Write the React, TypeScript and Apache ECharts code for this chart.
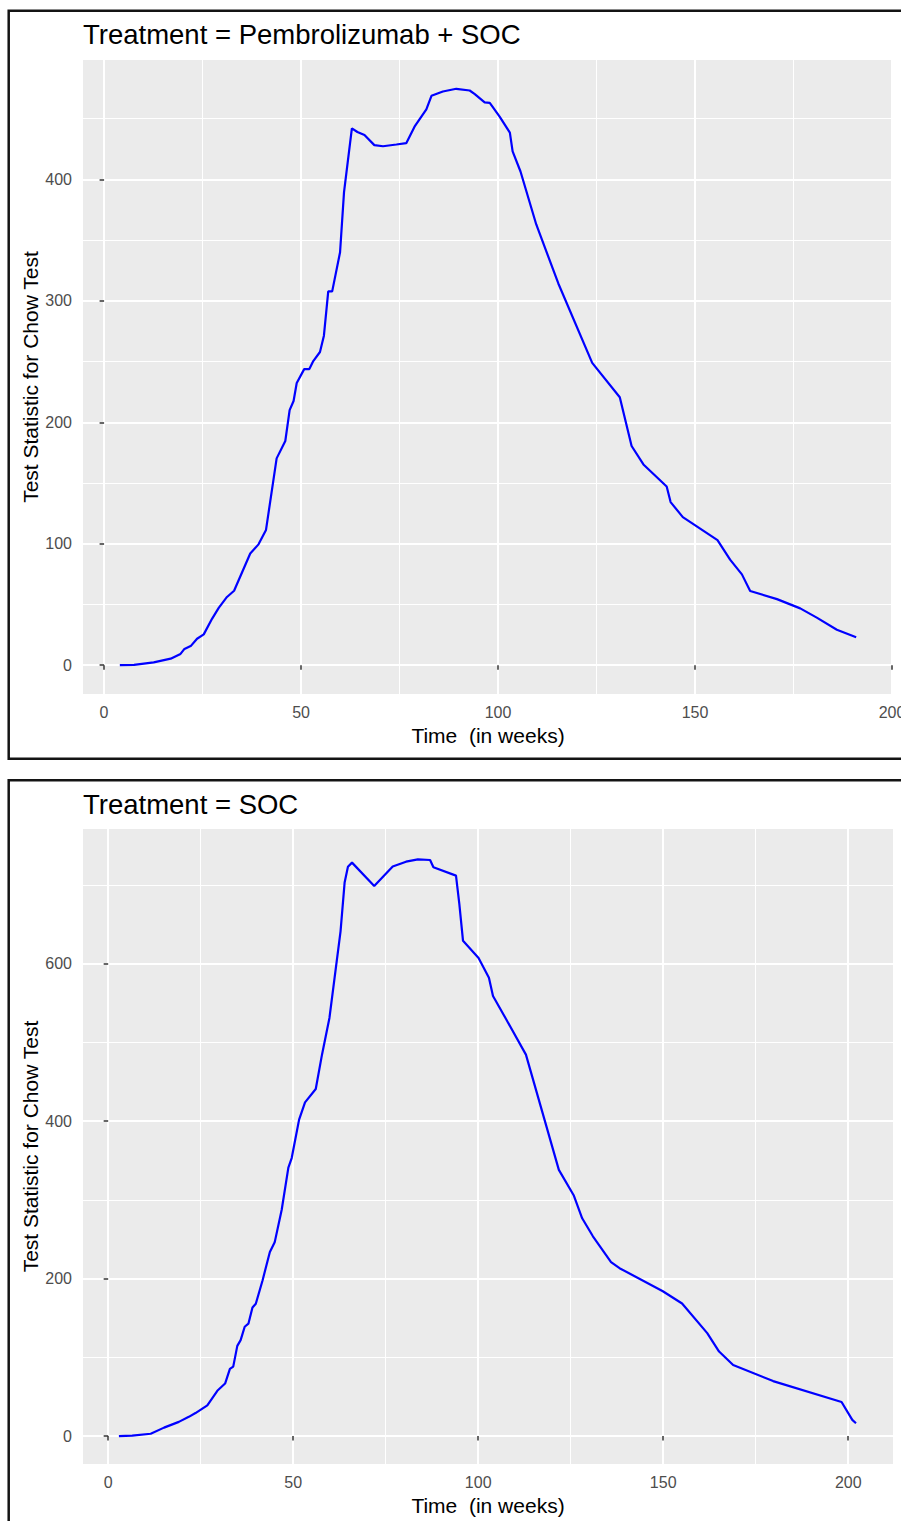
import React, { useEffect, useRef } from "react";
import * as echarts from "echarts";

// Treatment = Pembrolizumab + SOC
const pembroWeeks = [4.0, 7.6, 12.6, 16.9, 19.4, 20.4, 22.1, 23.6, 25.3, 27.4, 29.1, 31.2, 33.0, 37.1, 39.2, 41.1, 43.8, 46.0, 47.1, 48.1, 48.9, 50.8, 52.1, 53.1, 54.8, 55.8, 56.9, 57.9, 59.9, 60.9, 62.9, 64.3, 66.1, 68.6, 70.8, 74.2, 76.7, 78.8, 81.8, 83.1, 86.0, 89.4, 92.8, 94.1, 96.6, 97.9, 100.4, 103.0, 103.7, 105.7, 109.7, 115.3, 123.9, 130.9, 133.9, 136.9, 142.8, 143.8, 146.9, 155.7, 158.9, 161.9, 164.0, 170.8, 176.7, 180.9, 186.0, 190.9];
const pembroStat = [0, 0.3, 2.4, 5.4, 9.3, 13.4, 16.1, 21.8, 25.4, 38.2, 47.2, 56.2, 61.3, 92.0, 99.5, 111.4, 170.3, 184.6, 210.0, 217.5, 232.4, 243.8, 243.8, 250.4, 257.9, 271.3, 307.8, 307.8, 340.0, 389.3, 442.0, 439.0, 436.5, 428.2, 427.3, 428.7, 429.8, 443.4, 457.7, 468.8, 472.4, 474.6, 473.2, 470.2, 463.4, 463.0, 451.7, 438.5, 423.0, 406.5, 362.9, 314.3, 248.9, 220.6, 180.5, 165.3, 147.1, 134.3, 121.9, 103.0, 86.9, 74.8, 61.1, 54.4, 46.8, 39.2, 29.2, 23.1];

// Treatment = SOC
const socWeeks = [2.9, 6.5, 11.5, 15.1, 19.1, 21.8, 23.6, 26.8, 29.5, 31.6, 32.9, 33.8, 34.9, 35.8, 36.9, 37.9, 39.0, 39.9, 41.7, 43.7, 45.0, 46.9, 48.7, 49.6, 51.6, 53.2, 56.1, 57.8, 59.8, 62.8, 63.9, 64.8, 65.9, 71.9, 76.9, 80.5, 83.7, 87.0, 87.9, 94.0, 94.9, 95.9, 100.1, 102.9, 104.0, 107.6, 112.9, 121.8, 125.8, 128.1, 131.0, 135.9, 138.2, 149.9, 155.1, 161.9, 165.1, 168.9, 179.7, 198.2, 201.1, 202.1];
const socStat = [0, 0.5, 2.9, 10.7, 18.0, 24.4, 29.2, 39.0, 57.5, 66.7, 85.2, 88.2, 114.5, 121.8, 138.8, 142.7, 163.2, 168.0, 197.3, 233.8, 246.0, 287.4, 341.0, 353.1, 401.9, 423.8, 440.8, 484.7, 531.0, 641.0, 703.0, 723.0, 728.3, 698.5, 723.3, 729.5, 732.5, 731.6, 722.4, 711.8, 676.0, 629.0, 607.2, 582.0, 559.0, 529.0, 484.4, 338.0, 305.9, 276.6, 253.7, 221.0, 213.2, 183.9, 168.3, 130.7, 107.3, 90.2, 69.8, 43.2, 20.5, 16.3];

const xTicks = [0, 50, 100, 150, 200];
const xMinor = [25, 75, 125, 175];
const pembroYTicks = [0, 100, 200, 300, 400];
const pembroYMinor = [50, 150, 250, 350, 450];
const socYTicks = [0, 200, 400, 600];
const socYMinor = [100, 300, 500, 700];

const titles = ["Treatment = Pembrolizumab + SOC", "Treatment = SOC"];
const xName = "Time  (in weeks)";
const yName = "Test Statistic for Chow Test";

const FONT = "'Liberation Sans', Arial, Helvetica, sans-serif";

function zip(xs: number[], ys: number[]) {
  return xs.map((x, i) => [x, ys[i]]);
}

function majorX(gridIndex: number, min: number, max: number) {
  return {
    type: "value",
    gridIndex,
    min,
    max,
    position: "bottom",
    axisLine: { show: false },
    axisTick: { show: true, inside: false, length: 4.5, customValues: xTicks, lineStyle: { color: "#333333", width: 1.5 } },
    axisLabel: { customValues: xTicks, color: "#4D4D4D", fontSize: 16, margin: 10, fontFamily: FONT, hideOverlap: false },
    splitLine: { show: true, lineStyle: { color: "#FFFFFF", width: 2 } },
    name: xName,
    nameLocation: "middle",
    nameGap: 31,
    nameMoveOverlap: false,
    nameTextStyle: { color: "#000000", fontSize: 21, fontFamily: FONT },
  };
}

function minorX(gridIndex: number, min: number, max: number) {
  return {
    type: "value",
    gridIndex,
    min,
    max,
    axisLine: { show: false },
    axisTick: { show: false, customValues: xMinor },
    axisLabel: { show: false, customValues: xMinor },
    splitLine: { show: true, lineStyle: { color: "#FFFFFF", width: 1 } },
  };
}

function majorY(gridIndex: number, min: number, max: number, ticks: number[]) {
  return {
    type: "value",
    gridIndex,
    min,
    max,
    position: "left",
    axisLine: { show: false },
    axisTick: { show: true, inside: false, length: 4.5, customValues: ticks, lineStyle: { color: "#333333", width: 1.5 } },
    axisLabel: { customValues: ticks, color: "#4D4D4D", fontSize: 16, margin: 11, fontFamily: FONT },
    splitLine: { show: true, lineStyle: { color: "#FFFFFF", width: 2 } },
    name: yName,
    nameLocation: "middle",
    nameGap: 42,
    nameRotate: 90,
    nameMoveOverlap: false,
    nameTextStyle: { color: "#000000", fontSize: 21, fontFamily: FONT },
  };
}

function minorY(gridIndex: number, min: number, max: number, ticks: number[]) {
  return {
    type: "value",
    gridIndex,
    min,
    max,
    axisLine: { show: false },
    axisTick: { show: false, customValues: ticks },
    axisLabel: { show: false, customValues: ticks },
    splitLine: { show: true, lineStyle: { color: "#FFFFFF", width: 1 } },
  };
}

export default function App() {
  const ref = useRef<HTMLDivElement>(null);

  useEffect(() => {
    document.body.style.margin = "0";
    if (!ref.current) return;
    const chart = echarts.init(ref.current, undefined, { renderer: "svg" });

    const option: any = {
      animation: false,
      backgroundColor: "#FFFFFF",
      textStyle: { fontFamily: FONT },
      grid: [
        { left: 83, top: 60, width: 810, height: 634, show: true, backgroundColor: "#EBEBEB", borderWidth: 0, containLabel: false, outerBoundsMode: "none" },
        { left: 83, top: 829, width: 810, height: 635, show: true, backgroundColor: "#EBEBEB", borderWidth: 0, containLabel: false, outerBoundsMode: "none" },
      ],
      xAxis: [
        majorX(0, -5.35, 200.25),
        minorX(0, -5.35, 200.25),
        majorX(1, -6.8, 212.1),
        minorX(1, -6.8, 212.1),
      ],
      yAxis: [
        majorY(0, -23.7, 498.3, pembroYTicks),
        minorY(0, -23.7, 498.3, pembroYMinor),
        majorY(1, -35.5, 771, socYTicks),
        minorY(1, -35.5, 771, socYMinor),
      ],
      series: [
        {
          type: "line",
          xAxisIndex: 0,
          yAxisIndex: 0,
          data: zip(pembroWeeks, pembroStat),
          showSymbol: false,
          symbol: "none",
          lineStyle: { color: "#0000FF", width: 2.2 },
          z: 5,
        },
        {
          type: "line",
          xAxisIndex: 2,
          yAxisIndex: 2,
          data: zip(socWeeks, socStat),
          showSymbol: false,
          symbol: "none",
          lineStyle: { color: "#0000FF", width: 2.2 },
          z: 5,
        },
      ],
      graphic: [
        {
          type: "rect",
          silent: true,
          z: 100,
          shape: { x: 8.7, y: 10.7, width: 1000, height: 748 },
          style: { fill: "none", stroke: "#141414", lineWidth: 2.5 },
        },
        {
          type: "rect",
          silent: true,
          z: 100,
          shape: { x: 8.7, y: 780.3, width: 1000, height: 800 },
          style: { fill: "none", stroke: "#141414", lineWidth: 2.5 },
        },
        {
          type: "text",
          x: 83,
          y: 34,
          z: 100,
          style: { text: titles[0], fontSize: 27.5, fontFamily: FONT, fill: "#000000", align: "left", verticalAlign: "middle" },
        },
        {
          type: "text",
          x: 83,
          y: 804,
          z: 100,
          style: { text: titles[1], fontSize: 27.5, fontFamily: FONT, fill: "#000000", align: "left", verticalAlign: "middle" },
        },
      ],
    };

    chart.setOption(option);
    return () => {
      chart.dispose();
    };
  }, []);

  return <div ref={ref} style={{ width: 901, height: 1521 }} />;
}
